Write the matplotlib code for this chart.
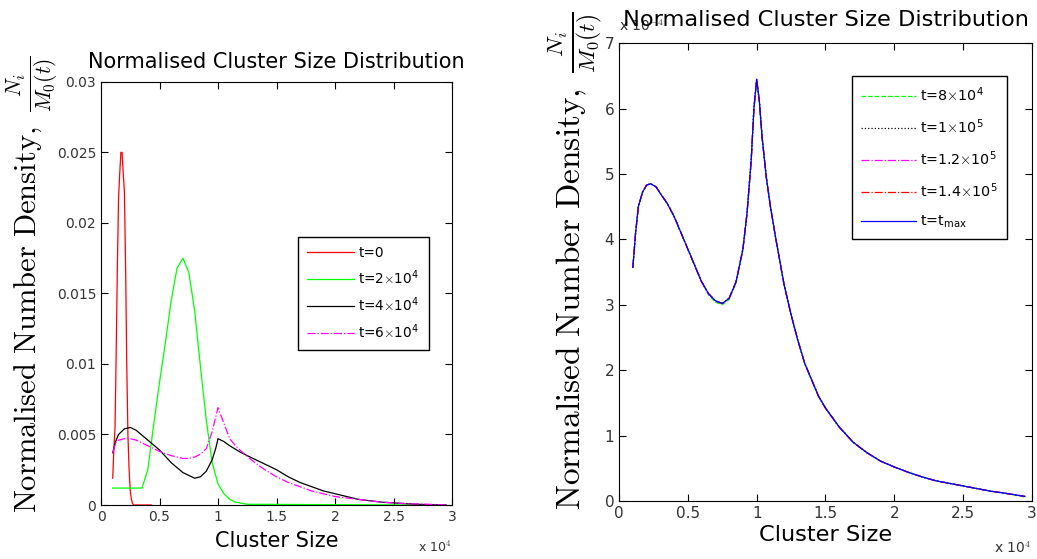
import numpy as np
import matplotlib
matplotlib.use('Agg')
import matplotlib.pyplot as plt
from matplotlib.ticker import FuncFormatter

plt.rcParams['font.family'] = ['DejaVu Sans']
plt.rcParams['mathtext.fontset'] = 'cm'

# ---- left panel data (cluster size, normalised density)
x_t0 = [1000, 1100, 1200, 1300, 1400, 1500, 1600, 1700, 1800, 1900, 2000, 2100,
        2200, 2300, 2400, 2500, 2600, 2700, 2800, 3500, 4300]
y_t0 = [0.0019, 0.004, 0.0055, 0.011, 0.017, 0.0218, 0.0235, 0.025, 0.025, 0.0235,
        0.0222, 0.017, 0.01, 0.005, 0.0025, 0.001, 0.0004, 0.0001, 0.0, 0.0, 0.0]

x_t2 = [1000, 2000, 3000, 3500, 4000, 4500, 5000, 5500, 6000, 6500, 7000, 7500,
        8000, 8500, 9000, 9500, 10000, 10500, 11000, 11500, 12500, 27000]
y_t2 = [0.0012, 0.0012, 0.0012, 0.0012, 0.0025, 0.0057, 0.0087, 0.0115, 0.0145,
        0.0168, 0.0175, 0.0165, 0.0138, 0.0098, 0.006, 0.003, 0.0015, 0.0008,
        0.0004, 0.0002, 0.00005, 0.0]

x_t4 = [1000, 1250, 1500, 2000, 2500, 3000, 4000, 5000, 6000, 7000, 8000, 8500,
        9000, 9500, 9800, 10000, 10500, 11000, 12000, 13000, 14000, 15000, 16000,
        17000, 18000, 19000, 20000, 21000, 22000, 23000, 24000, 25000, 26000,
        27000, 29500]
y_t4 = [0.0037, 0.0045, 0.005, 0.0054, 0.0055, 0.0053, 0.0046, 0.0039, 0.003,
        0.0023, 0.0019, 0.002, 0.0024, 0.0032, 0.004, 0.0047, 0.0045, 0.0042,
        0.0037, 0.0033, 0.0029, 0.0025, 0.002, 0.0016, 0.0013, 0.001, 0.0008,
        0.0006, 0.0004, 0.0003, 0.0002, 0.00015, 0.0001, 0.00005, 0.0]

x_t6 = [1000, 1250, 1500, 2000, 2500, 3000, 4000, 5000, 6000, 7000, 7500, 8000,
        8500, 9000, 9500, 10000, 10500, 11000, 11500, 12000, 13000, 14000, 15000,
        16000, 17000, 18000, 19000, 20000, 22000, 24000, 26000, 28000, 29500]
y_t6 = [0.0037, 0.0044, 0.0046, 0.0047, 0.0047, 0.0046, 0.0042, 0.0038, 0.0035,
        0.0033, 0.0033, 0.0034, 0.0036, 0.004, 0.0052, 0.0069, 0.0058, 0.0047,
        0.0042, 0.0038, 0.0031, 0.0025, 0.002, 0.0016, 0.0013, 0.001, 0.0008,
        0.0006, 0.0004, 0.0002, 0.0001, 0.00005, 0.0]

# ---- right panel data (late times, units of 1e-4)
x_late = [1000, 1200, 1400, 1700, 2000, 2300, 2700, 3000, 3500, 4000, 4500, 5000,
          5500, 6000, 6500, 7000, 7500, 8000, 8500, 9000, 9300, 9600, 9800, 10000,
          10200, 10400, 10700, 11000, 11400, 12000, 12500, 13000, 13500, 14000,
          14500, 15000, 16000, 17000, 18000, 19000, 20000, 21000, 22000, 23000,
          24000, 25000, 26000, 27000, 28000, 29500]
y_t8 = [3.57, 4.1, 4.5, 4.72, 4.83, 4.85, 4.8, 4.7, 4.55, 4.35, 4.1, 3.85, 3.6,
        3.35, 3.15, 3.04, 3.0, 3.08, 3.33, 3.85, 4.4, 5.2, 6.0, 6.42, 6.1, 5.55,
        4.95, 4.5, 4.0, 3.3, 2.85, 2.45, 2.1, 1.85, 1.6, 1.43, 1.14, 0.9, 0.74,
        0.61, 0.52, 0.44, 0.37, 0.31, 0.27, 0.23, 0.19, 0.15, 0.12, 0.06]
y_t10 = [3.57, 4.1, 4.5, 4.72, 4.83, 4.85, 4.8, 4.7, 4.55, 4.35, 4.1, 3.85, 3.6,
         3.35, 3.17, 3.06, 3.02, 3.1, 3.35, 3.85, 4.4, 5.2, 6.0, 6.45, 6.1, 5.55,
         4.95, 4.5, 4.0, 3.3, 2.85, 2.45, 2.1, 1.85, 1.6, 1.42, 1.13, 0.9, 0.74,
         0.61, 0.52, 0.44, 0.37, 0.31, 0.27, 0.23, 0.19, 0.15, 0.12, 0.07]
y_t12 = y_t10
y_t14 = y_t10
y_tmax = y_t10

fig = plt.figure(figsize=(10.37, 5.59), dpi=100)
ax1 = fig.add_axes([0.0974, 0.0966, 0.3385, 0.757])
ax2 = fig.add_axes([0.597, 0.1038, 0.398, 0.819])

sup = lambda a, e: r't=%s$\times$10$^{\mathregular{%s}}$' % (a, e)

lw = 0.9
ax1.plot(x_t0, y_t0, color='red', lw=lw, label='t=0')
ax1.plot(x_t2, y_t2, color='lime', lw=lw, label=sup('2', '4'))
ax1.plot(x_t4, y_t4, color='black', lw=lw, label=sup('4', '4'))
ax1.plot(x_t6, y_t6, color='magenta', lw=lw, ls='-.', label=sup('6', '4'))

ax2.plot(x_late, y_t8, color='lime', lw=lw, ls='--', label=sup('8', '4'))
ax2.plot(x_late, y_t10, color='black', lw=lw, ls=':', label=sup('1', '5'))
ax2.plot(x_late, y_t12, color='magenta', lw=lw, ls='-.', label=sup('1.2', '5'))
ax2.plot(x_late, y_t14, color='red', lw=lw, ls='-.', label=sup('1.4', '5'))
ax2.plot(x_late, y_tmax, color='blue', lw=lw, label=r't=t$_{\mathregular{max}}$')

ylab = r'$\mathrm{Normalised\ Number\ Density,}\ \frac{N_i}{M_0(t)}$'
fmt = FuncFormatter(lambda v, p: '%g' % v)
xfmt = FuncFormatter(lambda v, p: '%g' % (v / 1e4))

for ax in (ax1, ax2):
    ax.set_xlim(0, 30000)
    ax.set_xticks(np.arange(0, 30001, 5000))
    ax.xaxis.set_major_formatter(xfmt)
    ax.yaxis.set_major_formatter(fmt)
    ax.tick_params(direction='in', top=True, right=True,
                   labelcolor='#333333', length=5, width=0.8)
    for s in ax.spines.values():
        s.set_linewidth(0.8)

# left panel
ax1.tick_params(labelsize=10)
ax1.set_ylim(0, 0.03)
ax1.set_yticks(np.arange(0, 0.0301, 0.005))
ax1.set_title('Normalised Cluster Size Distribution', fontsize=15, pad=10)
ax1.set_xlabel('Cluster Size', fontsize=15, labelpad=5)
ax1.set_ylabel(ylab, fontsize=22)
ax1.yaxis.set_label_coords(-0.117, 0.52)
ax1.text(1.0, -0.118, r'x 10$^4$', transform=ax1.transAxes, fontsize=9,
         ha='right', va='bottom', color='#333333')
ax1.legend(loc='upper left', bbox_to_anchor=(0.561, 0.634), borderaxespad=0,
           fontsize=9.8, fancybox=False, edgecolor='black', framealpha=1,
           handlelength=3.5, handletextpad=0.3, borderpad=0.65,
           labelspacing=0.65)

# right panel
ax2.tick_params(labelsize=11)
ax2.set_ylim(0, 7)
ax2.set_title('Normalised Cluster Size Distribution', fontsize=16.2, pad=12)
ax2.set_xlabel('Cluster Size', fontsize=16.2, labelpad=3)
ax2.set_ylabel(ylab, fontsize=24)
ax2.yaxis.set_label_coords(-0.035, 0.524)
ax2.text(1.0, -0.12, r'x 10$^4$', transform=ax2.transAxes, fontsize=10,
         ha='right', va='bottom', color='#333333')
ax2.text(0.0, 1.02, r'x 10$^{-4}$', transform=ax2.transAxes, fontsize=10,
         ha='left', va='bottom', color='#333333')
ax2.legend(loc='upper left', bbox_to_anchor=(0.564, 0.928), borderaxespad=0,
           fontsize=10.3, fancybox=False, edgecolor='black', framealpha=1,
           handlelength=3.8, handletextpad=0.3, borderpad=0.65,
           labelspacing=0.95)

fig.savefig('out.png', dpi=100)
